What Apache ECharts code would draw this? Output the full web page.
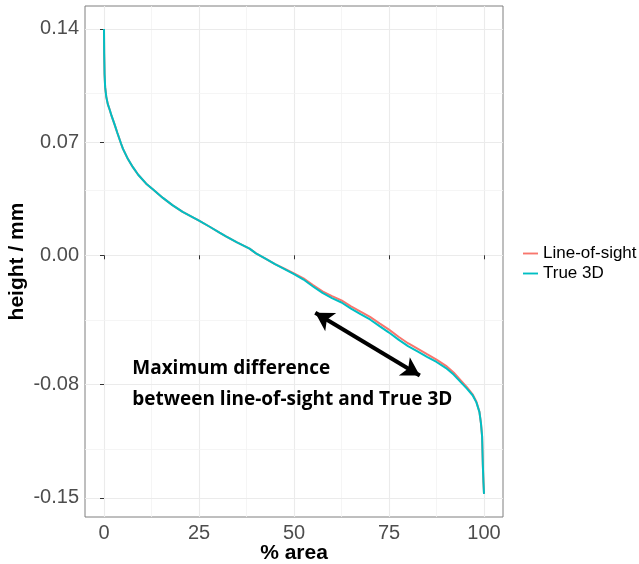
<!DOCTYPE html>
<html>
<head>
<meta charset="utf-8">
<script src="https://cdn.jsdelivr.net/npm/echarts@6/dist/echarts.min.js"></script>
<style>
html,body{margin:0;padding:0;background:#fff;}
#chart{width:639px;height:564px;}
</style>
</head>
<body>
<div id="chart"></div>
<script>
// ---- data ----
var areaPct = [0, 0.05, 0.15, 0.3, 0.6, 1.0, 1.5, 2.0, 2.8, 3.5, 4.5, 5.0, 6.3, 7.6, 9.0, 11.1, 13.0, 15.5, 18.0, 20.7, 23.4, 25.0, 27.7, 30.4, 32.1, 35.0, 38.3, 40.0, 42.6, 45.0, 47.5, 50.0, 52.5, 55.0, 57.5, 60.0, 62.5, 65.0, 67.5, 70.0, 72.5, 75.0, 77.5, 80.0, 82.5, 85.0, 87.5, 90.0, 92.0, 94.0, 95.5, 97.0, 98.0, 98.8, 99.2, 99.5, 99.7, 99.85, 100.0];
var true3D = [0.1399, 0.125, 0.112, 0.104, 0.098, 0.0935, 0.090, 0.0862, 0.0808, 0.0758, 0.0690, 0.0658, 0.0595, 0.0545, 0.0498, 0.0443, 0.0405, 0.0355, 0.031, 0.0268, 0.0235, 0.0215, 0.0178, 0.0140, 0.0117, 0.0080, 0.0041, 0.0012, -0.0022, -0.0055, -0.0086, -0.0117, -0.0150, -0.0193, -0.0233, -0.0265, -0.0292, -0.0330, -0.0364, -0.0397, -0.0438, -0.0478, -0.0522, -0.0562, -0.0595, -0.0628, -0.066, -0.0698, -0.0738, -0.0788, -0.0825, -0.0866, -0.091, -0.097, -0.104, -0.112, -0.130, -0.140, -0.1476];
var lineOfSight = [0.1399, 0.125, 0.112, 0.104, 0.098, 0.0935, 0.090, 0.0862, 0.0808, 0.0758, 0.0690, 0.0658, 0.0595, 0.0545, 0.0498, 0.0443, 0.0405, 0.0355, 0.031, 0.0268, 0.0235, 0.0215, 0.0178, 0.0140, 0.0117, 0.0080, 0.0041, 0.0012, -0.0022, -0.0055, -0.0083, -0.0112, -0.0143, -0.0184, -0.0223, -0.0253, -0.0279, -0.0316, -0.0349, -0.0381, -0.0421, -0.0460, -0.0504, -0.0544, -0.0578, -0.0612, -0.0645, -0.0684, -0.0725, -0.0777, -0.0816, -0.0860, -0.0906, -0.0968, -0.104, -0.112, -0.130, -0.140, -0.1476];
var seriesNames = ['Line-of-sight', 'True 3D'];
var xTicks = [0, 25, 50, 75, 100];
var xMinorGrid = [12.5, 37.5, 62.5, 87.5];
var yTicks = [-0.15, -0.08, 0.00, 0.07, 0.14];
var yMinorGrid = [-0.115, -0.04, 0.035, 0.105];
var annotLines = ['Maximum difference', 'between line-of-sight and True 3D'];
var annotAnchor = [[7.3, -0.0698], [7.3, -0.0891]];
var arrowEnds = [[55.6, -0.0356], [83.1, -0.0744]];

function pairs(xs, ys){ return xs.map(function(x,i){ return [x, ys[i]]; }); }

var chart = echarts.init(document.getElementById('chart'), null, {renderer:'canvas'});
var font = 'Liberation Sans, Arial, sans-serif';

var gridLines = [];
xTicks.forEach(function(v){ gridLines.push({xAxis: v, lineStyle:{color:'#ebebeb', width:1.1, type:'solid'}}); });
xMinorGrid.forEach(function(v){ gridLines.push({xAxis: v, lineStyle:{color:'#f3f3f3', width:0.8, type:'solid'}}); });
yTicks.forEach(function(v){ gridLines.push({yAxis: v, lineStyle:{color:'#ebebeb', width:1.1, type:'solid'}}); });
yMinorGrid.forEach(function(v){ gridLines.push({yAxis: v, lineStyle:{color:'#f3f3f3', width:0.8, type:'solid'}}); });

var option = {
  animation: false,
  backgroundColor: '#ffffff',
  grid: {left: 85, top: 6, width: 418, height: 511, show: true, borderColor: '#7f7f7f', borderWidth: 1,
         backgroundColor: 'transparent', containLabel: false, outerBoundsMode: 'none'},
  legend: {
    data: seriesNames,
    orient: 'vertical',
    left: 523, top: 245, padding: 0,
    itemWidth: 15, itemHeight: 14, itemGap: 3,
    textStyle: {fontFamily: font, fontSize: 17, color: '#000'},
    icon: 'path://M0,6 L16,6 L16,8 L0,8 Z'
  },
  xAxis: {
    type: 'value', min: -5, max: 105,
    name: '% area', nameLocation: 'middle', nameGap: 22, nameMoveOverlap: false,
    nameTextStyle: {fontFamily: font, fontSize: 21, fontWeight: 'bold', color: '#000', padding: [4, 0, 0, 0]},
    axisLine: {show: false},
    axisTick: {show: true, customValues: xTicks, length: 4, lineStyle: {color: '#333'}},
    axisLabel: {customValues: xTicks, fontFamily: font, fontSize: 20, color: '#4d4d4d', margin: 6},
    splitLine: {show: false}
  },
  yAxis: {
    type: 'value', min: -0.1619, max: 0.1542,
    name: 'height / mm', nameLocation: 'middle', nameGap: 57, nameMoveOverlap: false,
    nameTextStyle: {fontFamily: font, fontSize: 21, fontWeight: 'bold', color: '#000'},
    axisLine: {show: false},
    axisTick: {show: true, customValues: yTicks, length: 4, lineStyle: {color: '#333'}},
    axisLabel: {customValues: yTicks, fontFamily: font, fontSize: 20, color: '#4d4d4d', margin: 6,
      formatter: function(v){ return v.toFixed(2); }},
    splitLine: {show: false}
  },
  series: [
    {
      name: 'grid', type: 'line', data: [], silent: true, z: 0,
      markLine: {silent: true, z: 0, symbol: ['none','none'], label: {show: false}, animation: false, data: gridLines}
    },
    {
      name: seriesNames[0], type: 'line', data: pairs(areaPct, lineOfSight), showSymbol: false, symbol: 'none',
      color: '#F8766D', lineStyle: {width: 2, color: '#F8766D'}, z: 3
    },
    {
      name: seriesNames[1], type: 'line', data: pairs(areaPct, true3D), showSymbol: false, symbol: 'none',
      color: '#00BFC4', lineStyle: {width: 2, color: '#00BFC4'}, z: 4
    },
    {
      name: 'annot', type: 'scatter', data: [], silent: true, z: 5,
      markLine: {
        silent: true, z: 6, symbol: ['arrow', 'arrow'], symbolSize: [16, 18],
        label: {show: false},
        lineStyle: {color: '#000', width: 4, type: 'solid'},
        data: [[{coord: arrowEnds[0]}, {coord: arrowEnds[1]}]]
      },
      markPoint: {
        silent: true, z: 6, symbol: 'circle', symbolSize: 1, itemStyle: {color: 'rgba(0,0,0,0)'},
        label: {show: true, position: 'right', distance: 0, fontFamily: 'Open Sans, sans-serif', fontWeight: 'bold', fontSize: 19, color: '#000'},
        data: annotLines.map(function(t, i){ return {coord: annotAnchor[i], value: t, label: {formatter: t}}; })
      }
    }
  ]
};
chart.setOption(option);
</script>
</body>
</html>
